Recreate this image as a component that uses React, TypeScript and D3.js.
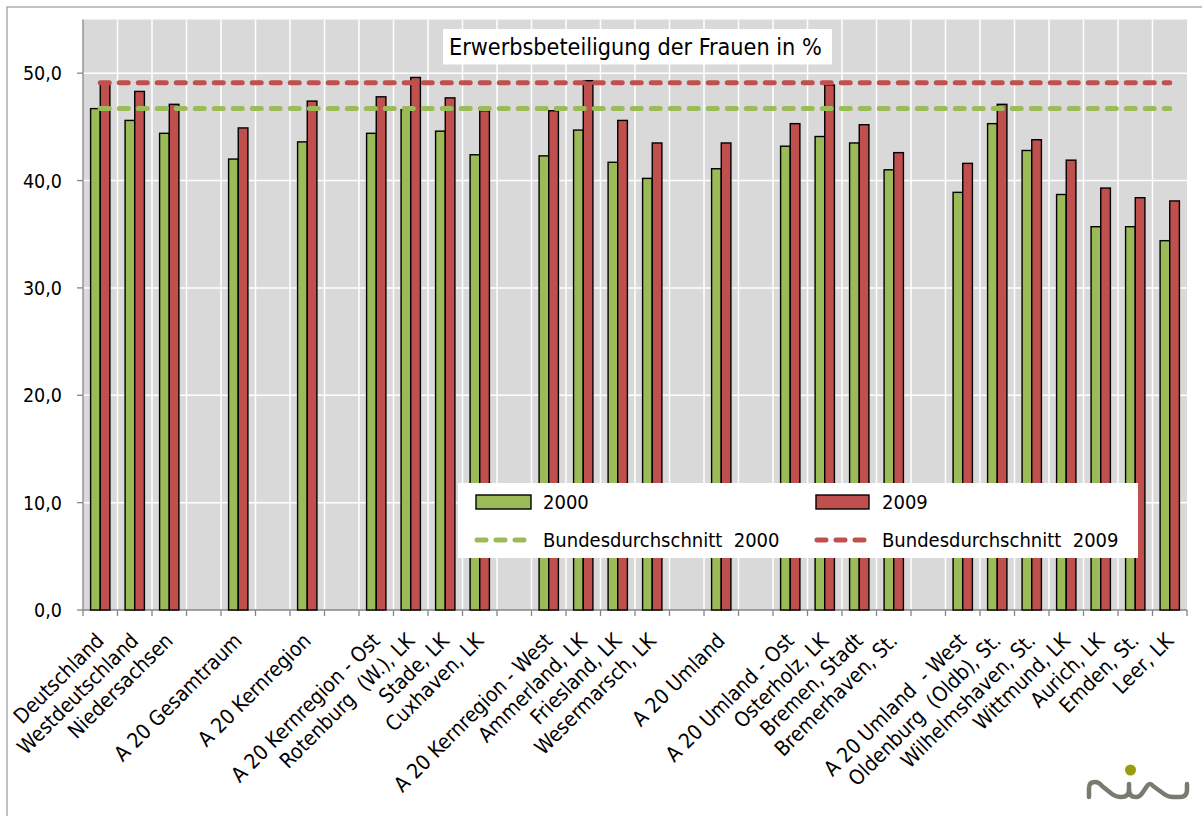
import React from "react";
import * as d3 from "d3";

const categories: string[] = [
  "Deutschland", "Westdeutschland", "Niedersachsen", "", "A 20 Gesamtraum", "", "A 20 Kernregion", "",
  "A 20 Kernregion - Ost", "Rotenburg  (W.), LK", "Stade, LK", "Cuxhaven, LK", "",
  "A 20 Kernregion - West", "Ammerland, LK", "Friesland, LK", "Wesermarsch, LK", "",
  "A 20 Umland", "", "A 20 Umland - Ost", "Osterholz, LK", "Bremen, Stadt", "Bremerhaven, St.", "",
  "A 20 Umland  - West", "Oldenburg  (Oldb), St.", "Wilhelmshaven, St.", "Wittmund, LK", "Aurich, LK",
  "Emden, St.", "Leer, LK",
];
const values2000: (number | null)[] = [
  46.7, 45.6, 44.4, null, 42.0, null, 43.6, null,
  44.4, 46.6, 44.6, 42.4, null,
  42.3, 44.7, 41.7, 40.2, null,
  41.1, null, 43.2, 44.1, 43.5, 41.0, null,
  38.9, 45.3, 42.8, 38.7, 35.7, 35.7, 34.4,
];
const values2009: (number | null)[] = [
  49.1, 48.3, 47.1, null, 44.9, null, 47.4, null,
  47.8, 49.6, 47.7, 46.5, null,
  46.5, 49.3, 45.6, 43.5, null,
  43.5, null, 45.3, 48.9, 45.2, 42.6, null,
  41.6, 47.1, 43.8, 41.9, 39.3, 38.4, 38.1,
];
const avg2000 = 46.7;
const avg2009 = 49.1;
const yTicks = [0, 10, 20, 30, 40, 50];
const title = "Erwerbsbeteiligung der Frauen in %";
const seriesNames = ["2000", "2009"];
const lineNames = ["Bundesdurchschnitt  2000", "Bundesdurchschnitt  2009"];

const W = 1202, H = 816;
const plot = { left: 83, right: 1187, top: 19.5, bottom: 610 };
const GREEN = "#9bbb59", RED = "#c0504d";
const FONT = "'DejaVu Sans Condensed', 'DejaVu Sans', sans-serif";

export default function App() {
  const x = d3.scaleBand<number>().domain(d3.range(categories.length)).range([plot.left, plot.right]).padding(0);
  const y = d3.scaleLinear().domain([0, 55]).range([plot.bottom, plot.top]);
  const bw = x.bandwidth();
  const barW = bw * 0.28;
  const fmt = (v: number) => d3.format(".1f")(v).replace(".", ",");
  const cx = (i: number) => (x(i) as number) + bw / 2;
  const lineX0 = cx(0), lineX1 = cx(categories.length - 1);

  return (
    <svg width={W} height={H} style={{ position: "fixed", left: 0, top: 0, background: "#fff" }} fontFamily={FONT}>
      <rect x={7} y={7} width={W + 20} height={H + 20} fill="#fff" stroke="#999" strokeWidth={1.2} />
      <rect x={plot.left} y={plot.top} width={plot.right - plot.left} height={plot.bottom - plot.top} fill="#d9d9d9" />
      {yTicks.filter(t => t > 0).map(t => (
        <line key={"hg" + t} x1={plot.left} x2={plot.right} y1={y(t)} y2={y(t)} stroke="#fff" strokeWidth={1.5} />
      ))}
      {d3.range(1, categories.length).map(i => (
        <line key={"vg" + i} x1={x(i)} x2={x(i)} y1={plot.top} y2={plot.bottom} stroke="#fff" strokeWidth={1.5} />
      ))}
      {/* axes */}
      <line x1={plot.left} x2={plot.left} y1={plot.top} y2={plot.bottom} stroke="#868686" strokeWidth={1.3} />
      <line x1={plot.left} x2={plot.right} y1={plot.bottom} y2={plot.bottom} stroke="#868686" strokeWidth={1.3} />
      {yTicks.map(t => (
        <g key={"yt" + t}>
          <line x1={plot.left - 6} x2={plot.left} y1={y(t)} y2={y(t)} stroke="#868686" strokeWidth={1.3} />
          <text x={62} y={y(t)} dy="0.36em" textAnchor="end" fontSize={19.5} fill="#000">{fmt(t)}</text>
        </g>
      ))}
      {d3.range(0, categories.length + 1).map(i => {
        const xx = i < categories.length ? (x(i) as number) : plot.right;
        return <line key={"xt" + i} x1={xx} x2={xx} y1={plot.bottom} y2={plot.bottom + 6} stroke="#868686" strokeWidth={1.3} />;
      })}
      {/* bars */}
      {categories.map((c, i) => (
        <g key={"b" + i}>
          {values2000[i] != null && (
            <rect x={cx(i) - barW} y={y(values2000[i] as number)} width={barW} height={plot.bottom - y(values2000[i] as number)}
              fill={GREEN} stroke="#000" strokeWidth={1.4} />
          )}
          {values2009[i] != null && (
            <rect x={cx(i)} y={y(values2009[i] as number)} width={barW} height={plot.bottom - y(values2009[i] as number)}
              fill={RED} stroke="#000" strokeWidth={1.4} />
          )}
        </g>
      ))}
      {/* average lines */}
      <line x1={lineX0} x2={lineX1} y1={y(avg2000)} y2={y(avg2000)} stroke={GREEN} strokeWidth={5} strokeDasharray="9 10" strokeLinecap="round" />
      <line x1={lineX0} x2={lineX1} y1={y(avg2009)} y2={y(avg2009)} stroke={RED} strokeWidth={5} strokeDasharray="9 10" strokeLinecap="round" />
      {/* x labels */}
      {categories.map((c, i) => c ? (
        <text key={"xl" + i} transform={`translate(${cx(i) + 5},${642}) rotate(-45)`} textAnchor="end" fontSize={20.8}
          style={{ whiteSpace: "pre" }} fill="#000">{c}</text>
      ) : null)}
      {/* title */}
      <rect x={443} y={29} width={389} height={35.5} fill="#fff" />
      <text x={449} y={55} fontSize={23.2} fill="#000">{title}</text>
      {/* legend */}
      <rect x={458} y={483} width={680} height={75} fill="#fff" />
      <rect x={476} y={495} width={55} height={14} fill={GREEN} stroke="#000" strokeWidth={1.4} />
      <text x={543} y={509} fontSize={20} fill="#000">{seriesNames[0]}</text>
      <rect x={816} y={495} width={53} height={14} fill={RED} stroke="#000" strokeWidth={1.4} />
      <text x={882} y={509} fontSize={20} fill="#000">{seriesNames[1]}</text>
      <line x1={477} x2={527} y1={540} y2={540} stroke={GREEN} strokeWidth={5} strokeDasharray="9 10" strokeLinecap="round" />
      <text x={543} y={547} fontSize={20} fill="#000" style={{ whiteSpace: "pre" }}>{lineNames[0]}</text>
      <line x1={817} x2={867} y1={540} y2={540} stroke={RED} strokeWidth={5} strokeDasharray="9 10" strokeLinecap="round" />
      <text x={882} y={547} fontSize={20} fill="#000" style={{ whiteSpace: "pre" }}>{lineNames[1]}</text>
      {/* logo */}
      <g fill="none" stroke="#7a7b70" strokeWidth={4.5} strokeLinecap="round" strokeLinejoin="round">
        <path d="M1089,797 V788 Q1089,782 1095,782 Q1099,782 1102,786 L1112,794 Q1116,797 1121,797 Q1129,797 1129,790 V784" />
        <path d="M1129,790 Q1129,797 1136,797 Q1140,797 1143,792 L1147,786 Q1150,782 1153,786 L1164,794 Q1168,797 1173,797 L1180,797 Q1187,797 1187,790 V784" />
      </g>
      <circle cx={1130.5} cy={770} r={5.5} fill="#9a9c10" />
    </svg>
  );
}
